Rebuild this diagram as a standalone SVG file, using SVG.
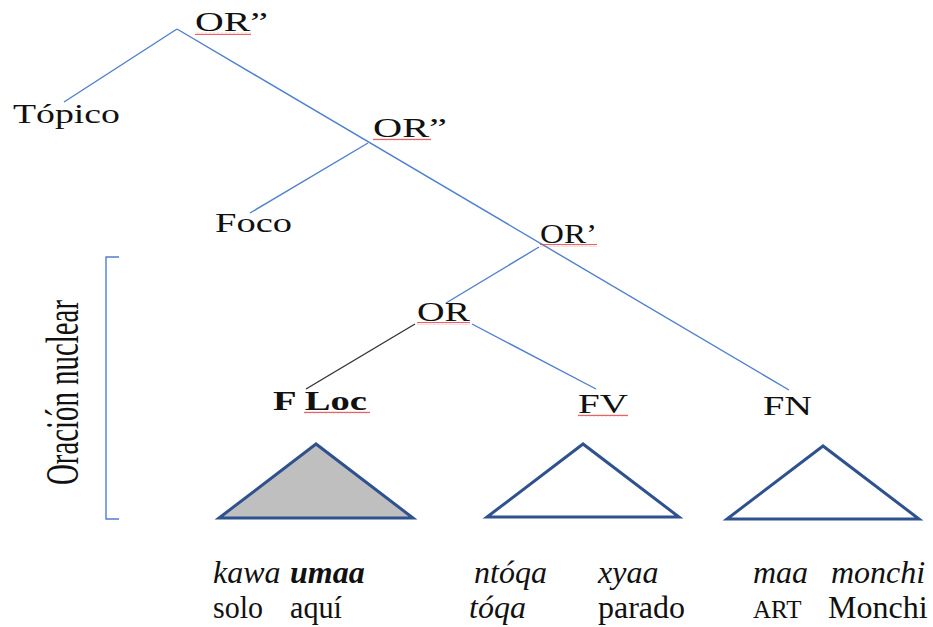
<svg xmlns="http://www.w3.org/2000/svg" width="933" height="627" viewBox="0 0 933 627">
<defs>
<style>
.lbl{font-family:"Liberation Serif","Times New Roman",serif;font-size:27px;fill:#111}
.b{font-weight:bold}
.ex{font-family:"Liberation Serif","Times New Roman",serif;font-size:32px;fill:#111}
.it{font-style:italic}
.edge{stroke:#4f7fcf;stroke-width:1.4;fill:none}
.edgek{stroke:#333;stroke-width:1.4;fill:none}
.tri{stroke:#2f528f;stroke-width:3;stroke-linejoin:miter}
.sq{fill:url(#squig)}
</style>
<pattern id="squig" width="4" height="3" patternUnits="userSpaceOnUse">
<path d="M0,2.2 L1,0.8 L2,2.2 L3,0.8 L4,2.2" stroke="#e23b3b" stroke-width="0.8" fill="none"/>
</pattern>
</defs>
<rect width="933" height="627" fill="#fff"/>

<g id="connectors">
<line class="edge" x1="177" y1="29" x2="789" y2="390"/>
<line class="edge" x1="177" y1="29" x2="64" y2="102"/>
<line class="edge" x1="368" y1="143" x2="250" y2="213"/>
<line class="edge" x1="539" y1="247" x2="446" y2="303"/>
<line class="edgek" x1="415" y1="324" x2="306" y2="389"/>
<line class="edge" x1="472" y1="324" x2="596" y2="389"/>
</g>

<g id="bracket">
<path class="edge" d="M119,257 H106 V519 H119"/>
<text class="lbl" style="font-size:46px" transform="translate(78,485) rotate(-90)" textLength="185" lengthAdjust="spacingAndGlyphs">Oración nuclear</text>
</g>

<g id="n-or2-top">
<text class="lbl" x="195" y="31" textLength="73" lengthAdjust="spacingAndGlyphs">OR”</text>
<rect class="sq" x="195" y="32" width="56" height="3"/>
</g>
<g id="n-topico">
<text class="lbl" x="13" y="123" textLength="107" lengthAdjust="spacingAndGlyphs">Tópico</text>
</g>
<g id="n-or2-mid">
<text class="lbl" x="373" y="137" textLength="74" lengthAdjust="spacingAndGlyphs">OR”</text>
<rect class="sq" x="373" y="138" width="58" height="3"/>
</g>
<g id="n-foco">
<text class="lbl" x="215" y="232" textLength="77" lengthAdjust="spacingAndGlyphs">Foco</text>
</g>
<g id="n-or1">
<text class="lbl" x="540" y="243" textLength="57" lengthAdjust="spacingAndGlyphs">OR’</text>
<rect class="sq" x="540" y="244" width="57" height="3"/>
</g>
<g id="n-or">
<text class="lbl" x="417" y="321" textLength="53" lengthAdjust="spacingAndGlyphs">OR</text>
<rect class="sq" x="417" y="322" width="53" height="3"/>
</g>
<g id="n-floc">
<text class="lbl b" x="273" y="410" textLength="94" lengthAdjust="spacingAndGlyphs">F Loc</text>
<rect class="sq" x="304" y="411" width="66" height="3"/>
<polygon class="tri" points="316,444 219,518 413,518" fill="#bfbfbf"/>
</g>
<g id="n-fv">
<text class="lbl" x="578" y="413" textLength="50" lengthAdjust="spacingAndGlyphs">FV</text>
<rect class="sq" x="578" y="414" width="50" height="3"/>
<polygon class="tri" points="583,444 487,517 679,517" fill="#fff"/>
</g>
<g id="n-fn">
<text class="lbl" x="763" y="415" textLength="49" lengthAdjust="spacingAndGlyphs">FN</text>
<polygon class="tri" points="823,446 727,519 919,519" fill="#fff"/>
</g>

<g id="gloss">
<text class="ex it" x="213" y="583">kawa</text>
<text class="ex it b" x="290" y="583">umaa</text>
<text class="ex it" x="474" y="583">ntóqa</text>
<text class="ex it" x="598" y="583">xyaa</text>
<text class="ex it" x="753" y="583">maa</text>
<text class="ex it" x="831" y="583">monchi</text>
<text class="ex" x="213" y="618" textLength="50" lengthAdjust="spacingAndGlyphs">solo</text>
<text class="ex" x="290" y="618" textLength="52" lengthAdjust="spacingAndGlyphs">aquí</text>
<text class="ex it" x="469" y="618">tóqa</text>
<text class="ex" x="598" y="618">parado</text>
<text class="ex" style="font-size:25px" x="753" y="618">ART</text>
<text class="ex" x="828" y="618">Monchi</text>
</g>
</svg>
